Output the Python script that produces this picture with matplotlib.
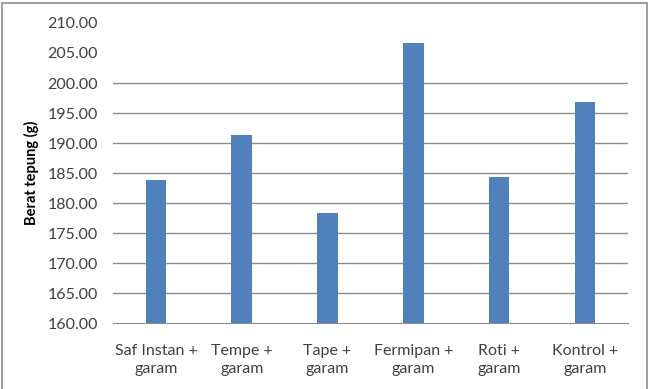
import matplotlib.pyplot as plt
from matplotlib.patches import Rectangle

categories = ['Saf Instan +\ngaram', 'Tempe +\ngaram', 'Tape +\ngaram',
              'Fermipan +\ngaram', 'Roti +\ngaram', 'Kontrol +\ngaram']
berat = [183.85, 191.35, 178.3, 206.6, 184.3, 196.8]
y_ticks = [160, 165, 170, 175, 180, 185, 190, 195, 200, 205, 210]
grid_lines = [165, 170, 175, 180, 185, 190, 195, 200]

plt.rcParams['font.family'] = ['Lato', 'DejaVu Sans']

fig = plt.figure(figsize=(6.54, 3.89), dpi=100)
ax = fig.add_axes([0.1728, 0.169, 0.7872, 0.772])

x = range(len(categories))
ax.bar(x, berat, width=0.24, color='#4F81BD', zorder=3)

ax.set_xlim(-0.5, len(categories) - 0.5)
ax.set_ylim(160, 210)
ax.set_yticks(y_ticks)
ax.set_yticklabels(['%.2f' % v for v in y_ticks])
ax.set_xticks(list(x))
ax.set_xticklabels(categories, linespacing=1.4)
for v in grid_lines:
    ax.axhline(v, color='#8c8c8c', lw=1, zorder=1)

ax.tick_params(length=0, colors='#404040', labelsize=11.5)
ax.tick_params(axis='y', pad=11)
ax.tick_params(axis='x', pad=15)
for s in ['left', 'right', 'top']:
    ax.spines[s].set_visible(False)
ax.spines['bottom'].set_color('#8c8c8c')
ax.spines['bottom'].set_zorder(4)

ax.set_ylabel('Berat tepung (g)', fontsize=10.5, fontweight='bold', color='black', labelpad=6)

fig.patches.append(Rectangle((2 / 654, -0.05), 645 / 654, 1.05 - 3 / 389,
                             transform=fig.transFigure, fill=False,
                             edgecolor='#8c8c8c', lw=1.2))

fig.savefig('out.png', dpi=100)
